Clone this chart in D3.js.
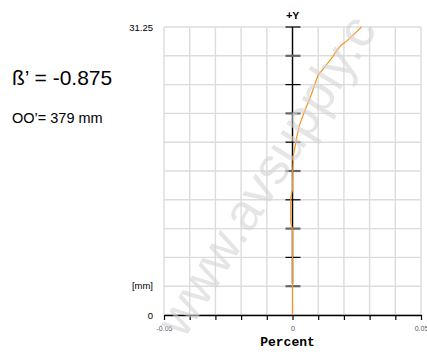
<!DOCTYPE html>
<html>
<head>
<meta charset="utf-8">
<script src="https://cdn.jsdelivr.net/npm/d3@7"></script>
<style>
  body { margin: 0; background: #fff; }
  svg { display: block; }
</style>
</head>
<body>
<div id="chart"></div>
<script>
// deviation curve: height in mm vs. deviation in percent
const heights = [0, 3.6, 9.2, 10.1, 12.7, 13.6, 15.7, 17.4, 19.5, 20.6, 22.1, 23.9, 26.0, 27.1, 28.0, 28.8, 29.3, 29.8, 30.7, 31.25];
const percent = [0, 0, 0, -0.0007, -0.0007, 0, 0.0001, 0.0004, 0.0018, 0.0027, 0.0047, 0.0073, 0.0099, 0.0131, 0.0156, 0.0175, 0.019, 0.0214, 0.0248, 0.0268];

const xTicks = [-0.05, -0.04, -0.03, -0.02, -0.01, 0, 0.01, 0.02, 0.03, 0.04, 0.05];
const xLabels = { '-0.05': '-0.05', '0': '0', '0.05': '0.05' };
const yTicks = [0, 3.125, 6.25, 9.375, 12.5, 15.625, 18.75, 21.875, 25, 28.125, 31.25];
const yLabels = { '0': '0', '31.25': '31.25' };

const W = 427, H = 352;
const PLOT = { LEFT: 164, RIGHT: 421, TOP: 27, BOTTOM: 315 };

const svg = d3.select('#chart')
    .append('svg')
    .attr('width', W)
    .attr('height', H);

const x = d3.scaleLinear().domain([-0.05, 0.05]).range([PLOT.LEFT, PLOT.RIGHT]);
const y = d3.scaleLinear().domain([0, 31.25]).range([PLOT.BOTTOM, PLOT.TOP]);

// grid
svg.append('g').selectAll('line.vgrid')
    .data(xTicks)
    .enter().append('line')
    .attr('x1', d => x(d)).attr('x2', d => x(d))
    .attr('y1', PLOT.TOP).attr('y2', PLOT.BOTTOM)
    .attr('stroke', '#dcdcdc').attr('stroke-width', 1.4);

svg.append('g').selectAll('line.hgrid')
    .data(yTicks)
    .enter().append('line')
    .attr('x1', PLOT.LEFT).attr('x2', PLOT.RIGHT)
    .attr('y1', d => y(d)).attr('y2', d => y(d))
    .attr('stroke', '#dcdcdc').attr('stroke-width', 1.4);

// bottom axis
const xAxis = svg.append('g')
    .attr('transform', `translate(0, ${PLOT.BOTTOM})`)
    .call(d3.axisBottom(x)
        .tickValues(xTicks)
        .tickSize(5)
        .tickSizeOuter(0)
        .tickPadding(6)
        .tickFormat(d => xLabels[String(d)] || ''));
xAxis.select('.domain').attr('stroke', '#000').attr('stroke-width', 1.5);
xAxis.selectAll('.tick line').attr('stroke', '#000').attr('stroke-width', 1.2);
xAxis.selectAll('.tick text')
    .attr('fill', '#556')
    .style('font-family', 'Arial, "Liberation Sans", sans-serif')
    .style('font-size', '7px');

// left labels
const yAxis = svg.append('g')
    .attr('transform', `translate(${PLOT.LEFT}, 0)`)
    .call(d3.axisLeft(y)
        .tickValues([0, 31.25])
        .tickSize(0)
        .tickPadding(11)
        .tickFormat(d => yLabels[String(d)]));
yAxis.select('.domain').remove();
yAxis.selectAll('.tick text')
    .attr('fill', '#000')
    .style('font-family', 'Arial, "Liberation Sans", sans-serif')
    .style('font-size', '9.5px');

svg.append('text')
    .attr('x', PLOT.LEFT - 11)
    .attr('y', y(3.125) + 3)
    .attr('text-anchor', 'end')
    .style('font-family', 'Arial, "Liberation Sans", sans-serif')
    .style('font-size', '9.5px')
    .text('[mm]');

// center axis
svg.append('line')
    .attr('x1', x(0)).attr('x2', x(0))
    .attr('y1', y(31.25)).attr('y2', y(3.4))
    .attr('stroke', '#000').attr('stroke-width', 1.4);

svg.append('g').selectAll('line.ctick')
    .data(yTicks.slice(1))
    .enter().append('line')
    .attr('x1', x(0) - 7).attr('x2', x(0) + 8)
    .attr('y1', d => y(d)).attr('y2', d => y(d))
    .attr('stroke', (d, i) => i % 2 === 0 ? '#666' : '#000')
    .attr('stroke-width', (d, i) => i % 2 === 0 ? 2.2 : 1.2);

// curve
const pts = heights.map((h, i) => ({ h: h, p: percent[i] }));
svg.append('path')
    .datum(pts)
    .attr('fill', 'none')
    .attr('stroke', '#f7931e')
    .attr('stroke-width', 1.2)
    .attr('d', d3.line().x(d => x(d.p)).y(d => y(d.h)));

// titles
svg.append('text')
    .attr('x', x(0))
    .attr('y', 19)
    .attr('text-anchor', 'middle')
    .style('font-family', '"Courier New", "Liberation Mono", monospace')
    .style('font-weight', 'bold')
    .style('font-size', '11px')
    .text('+Y');

svg.append('text')
    .attr('x', x(0) - 5)
    .attr('y', 346)
    .attr('text-anchor', 'middle')
    .style('font-family', '"Courier New", "Liberation Mono", monospace')
    .style('font-weight', 'bold')
    .style('font-size', '13px')
    .text('Percent');

svg.append('text')
    .attr('x', 12)
    .attr('y', 85)
    .style('font-family', 'Arial, "Liberation Sans", sans-serif')
    .style('font-size', '21px')
    .text('ß’ = -0.875');

svg.append('text')
    .attr('x', 12)
    .attr('y', 123)
    .style('font-family', 'Arial, "Liberation Sans", sans-serif')
    .style('font-size', '14.5px')
    .text('OO’= 379 mm');

// watermark
svg.append('text')
    .attr('transform', 'translate(184, 340) rotate(-58)')
    .attr('fill', '#d4d4d4')
    .attr('fill-opacity', 0.6)
    .style('font-family', 'Arial, "Liberation Sans", sans-serif')
    .style('font-size', '52px')
    .text('www.avsupply.c');
</script>
</body>
</html>
